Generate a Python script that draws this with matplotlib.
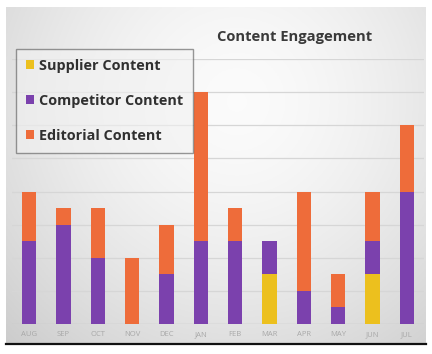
import matplotlib
matplotlib.use("Agg")
import matplotlib.pyplot as plt
import numpy as np
from matplotlib.patches import Patch

months = ["AUG", "SEP", "OCT", "NOV", "DEC", "JAN", "FEB", "MAR", "APR", "MAY", "JUN", "JUL"]
supplier = [0, 0, 0, 0, 0, 0, 0, 1.5, 0, 0, 1.5, 0]
competitor = [2.5, 3.0, 2.0, 0, 1.5, 2.5, 2.5, 1.0, 1.0, 0.5, 1.0, 4.0]
editorial = [1.5, 0.5, 1.5, 2.0, 1.5, 4.5, 1.0, 0, 3.0, 1.0, 1.5, 2.0]
series_names = ["Supplier Content", "Competitor Content", "Editorial Content"]
colors = ["#ECC01E", "#7B41AD", "#EE6C3A"]

plt.rcParams['font.family'] = ['Open Sans', 'DejaVu Sans']

W, H = 432, 354
fig = plt.figure(figsize=(W / 100, H / 100), dpi=100)
fig.patch.set_facecolor("white")

# background panel with gradient
px0, px1, py0, py1 = 6, 426, 7, 344
bg = fig.add_axes([px0 / W, 1 - py1 / H, (px1 - px0) / W, (py1 - py0) / H])
yy, xx = np.mgrid[0:1:200j, 0:1:200j]
r = np.sqrt(((xx - 0.55) / 0.75) ** 2 + ((yy - 0.72) / 0.95) ** 2)
val = 0.985 - 0.17 * np.clip(r, 0, 1.2) ** 1.6
img = np.dstack([val, val, val])
bg.imshow(img, origin="lower", extent=[0, 1, 0, 1], aspect="auto")
bg.set_xticks([]); bg.set_yticks([])
for s in ["top", "left", "right"]:
    bg.spines[s].set_visible(False)
bg.spines["bottom"].set_color("#111111")
bg.spines["bottom"].set_linewidth(1.6)

# main axes
ax0 = 12
ax1 = 424
y0pix = 324
y8pix = 59
ax = fig.add_axes([ax0 / W, 1 - y0pix / H, (ax1 - ax0) / W, (y0pix - y8pix) / H])
ax.patch.set_alpha(0)
x = np.arange(len(months))
bw = 0.41
s = np.array(supplier)
c = np.array(competitor)
e = np.array(editorial)
ax.bar(x, s, bw, color=colors[0], zorder=3)
ax.bar(x, c, bw, bottom=s, color=colors[1], zorder=3)
ax.bar(x, e, bw, bottom=s + c, color=colors[2], zorder=3)
ax.set_xlim(-0.5, len(months) - 0.5)
ax.set_ylim(0, 8)
ax.set_yticks(np.arange(1, 9))
ax.yaxis.grid(True, color="#d6d6d6", linewidth=0.9, zorder=0)
ax.axhline(0, color="#c8c8c8", linewidth=1.0, zorder=1)
ax.tick_params(axis="y", left=False, labelleft=False)
ax.tick_params(axis="x", length=0, pad=5, labelsize=5.5, labelcolor="#a8a8a8")
ax.set_xticks(x)
ax.set_xticklabels(months)
for sp in ax.spines.values():
    sp.set_visible(False)

fig.text(295 / W, 1 - 37 / H, "Content Engagement", ha="center", va="center",
         fontsize=10.6, fontweight="bold", color="#3a3a3a")

handles = [Patch(facecolor=col, edgecolor="none") for col in colors]
leg = fig.legend(handles, series_names, loc="upper left",
                 bbox_to_anchor=(16 / W, 1 - 49 / H), bbox_transform=fig.transFigure,
                 frameon=True, fancybox=False, edgecolor="#555555",
                 facecolor="#f2f2f2", framealpha=0.6,
                 prop={"weight": "bold", "size": 10.4},
                 handlelength=0.6, handleheight=0.6, handletextpad=0.3,
                 labelspacing=1.45, borderpad=0.68, borderaxespad=0)
leg.get_frame().set_linewidth(1.0)
for t in leg.get_texts():
    t.set_color("#303030")

fig.savefig("out.png", dpi=100)
